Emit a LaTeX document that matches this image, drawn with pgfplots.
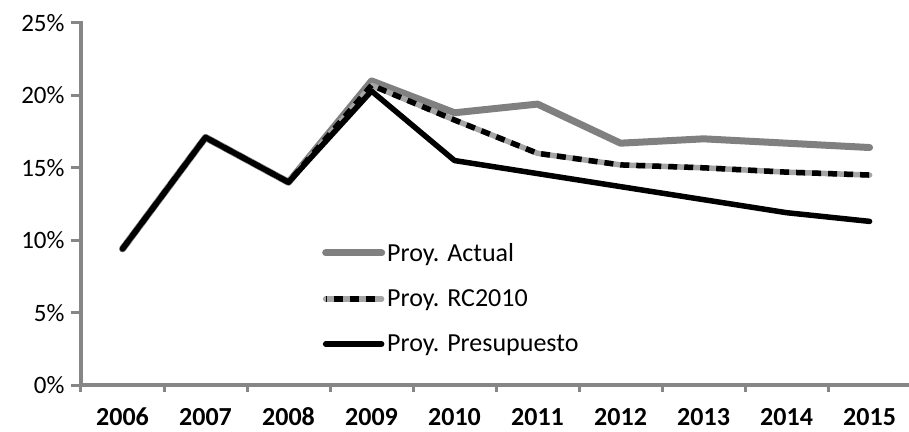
\documentclass[border=0pt]{standalone}
\usepackage{pgfplots}
\pgfplotsset{compat=1.18}
\usepackage{fontspec}
\setmainfont{Carlito}
\definecolor{axgray}{RGB}{134,134,134}
\definecolor{actgray}{RGB}{128,128,128}
\definecolor{rcbase}{RGB}{165,165,165}
\begin{document}
\begin{tikzpicture}
\useasboundingbox (-81pt,-46pt) rectangle (828pt,385pt);
\begin{axis}[
  at={(0pt,0pt)}, anchor=south west,
  scale only axis, width=828pt, height=362pt,
  xmin=-0.5, xmax=9.475, ymin=0, ymax=25,
  clip=false,
  axis lines*=left,
  axis line style={axgray, line width=3.5pt, line cap=rect},
  every tick/.style={axgray, line width=3pt},
  xtick={0,...,9},
  xticklabels={2006,2007,2008,2009,2010,2011,2012,2013,2014,2015},
  major x tick style={draw=none},
  minor xtick={-0.5,0.5,...,8.5},
  minor tick length=7pt,
  ytick={0,5,...,25},
  yticklabel={\pgfmathprintnumber{\tick}\%},
  /pgf/number format/assume math mode=true,
  major tick length=10pt,
  tick align=outside,
  tick pos=left,
  yticklabel style={font=\fontsize{25}{29}\selectfont, xshift=-3pt},
  xticklabel style={font=\fontsize{26}{30}\selectfont\bfseries, text height=17pt, text depth=0pt, anchor=north, yshift=-10pt},
  legend cell align=left,
  legend style={draw=none, fill=none, at={(0.291,0.398)}, anchor=north west,
    inner sep=0pt, row sep=23pt,
    font=\fontsize{26}{30}\selectfont},
  legend image code/.code={\draw[#1] (0pt,0pt) -- (56pt,0pt);},
  every axis plot/.append style={line cap=round, line join=round},
]
\addplot[actgray, line width=7pt] coordinates {
(0,9.4) (1,17.1) (2,14.0) (3,21.0) (4,18.8) (5,19.4) (6,16.7) (7,17.0) (8,16.7) (9,16.4)};
\addlegendentry{Proy. Actual}
\addplot[rcbase, line width=5.5pt, forget plot] coordinates {
(0,9.4) (1,17.1) (2,14.0) (3,20.7) (4,18.3) (5,16.0) (6,15.2) (7,15.0) (8,14.7) (9,14.5)};
\addplot[black, line width=5.5pt, line cap=butt, dash pattern=on 9pt off 7pt,
  legend image code/.code={\draw[rcbase, line width=5.5pt, line cap=round] (0pt,0pt) -- (56pt,0pt);
    \draw[black, line width=5.5pt, dash pattern=on 9pt off 7pt, dash phase=-8pt] (0pt,0pt) -- (56pt,0pt);}] coordinates {
(0,9.4) (1,17.1) (2,14.0) (3,20.7) (4,18.3) (5,16.0) (6,15.2) (7,15.0) (8,14.7) (9,14.5)};
\addlegendentry{Proy. RC2010}
\addplot[black, line width=5.5pt] coordinates {
(0,9.4) (1,17.1) (2,14.0) (3,20.3) (4,15.5) (5,14.6) (6,13.7) (7,12.8) (8,11.9) (9,11.3)};
\addlegendentry{Proy. Presupuesto}
\end{axis}
\end{tikzpicture}
\end{document}
